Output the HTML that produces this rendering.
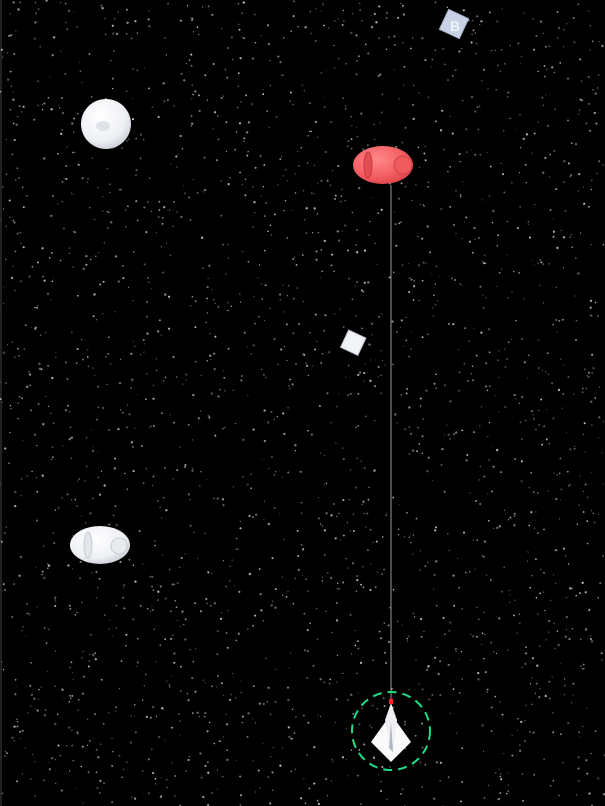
<!DOCTYPE html>
<html><head><meta charset="utf-8">
<style>html,body{margin:0;padding:0;background:#000;width:605px;height:806px;overflow:hidden}</style>
</head><body>
<svg id="scene" width="605" height="806" viewBox="0 0 605 806" xmlns="http://www.w3.org/2000/svg">
<defs>
<radialGradient id="gw" cx="0.4" cy="0.35" r="0.7"><stop offset="0" stop-color="#fff"/><stop offset="0.7" stop-color="#eef0f4"/><stop offset="1" stop-color="#c9ccd4"/></radialGradient>
<radialGradient id="gr" cx="0.4" cy="0.35" r="0.7"><stop offset="0" stop-color="#ff8a8a"/><stop offset="0.7" stop-color="#f25a5e"/><stop offset="1" stop-color="#d84448"/></radialGradient>
</defs>
<rect width="605" height="806" fill="#000"/>
<rect x="0" y="0" width="2" height="806" fill="#222"/>
<g id="stars"></g>
<line x1="391" y1="185" x2="391" y2="701" stroke="#999" stroke-width="1"/>
<g>
<ellipse cx="383" cy="165" rx="30" ry="19" fill="url(#gr)"/>
<ellipse cx="368" cy="165" rx="4" ry="13" fill="#e24e52" stroke="#c83a3e"/>
<circle cx="403" cy="165" r="9" fill="#ee5a5e" stroke="#cf4044"/>
</g>
<g>
<circle cx="106" cy="124" r="25" fill="url(#gw)"/>
<ellipse cx="103" cy="126" rx="7" ry="5" fill="#dfe2e8"/>
</g>
<g>
<ellipse cx="100" cy="545" rx="30" ry="19" fill="url(#gw)"/>
<ellipse cx="88" cy="545" rx="4" ry="13" fill="#e2e5ea" stroke="#c8ccd3"/>
<circle cx="119" cy="546" r="8" fill="#e9ebef" stroke="#c8ccd3"/>
</g>
<g>
<rect x="344" y="333" width="19" height="19" fill="#f2f4f8" stroke="#c5c8d0" transform="rotate(25 353 342)"/>
</g>
<g>
<rect x="443" y="13" width="22" height="22" fill="#c8d2e6" stroke="#a8b3c8" transform="rotate(25 454 24)"/>
<text x="455" y="31" font-family="Liberation Sans, sans-serif" font-size="14" font-weight="bold" fill="#eef2fa" text-anchor="middle">B</text>
</g>
<g>
<circle cx="391" cy="731" r="39" fill="none" stroke="#22dd88" stroke-width="2" stroke-dasharray="9 6"/>
<polygon points="391,714 411,742 391,762 371,742" fill="#fafafa"/>
<polygon points="391,703 397,720 393,752 391,752 385,720" fill="#f0f0f4"/>
<polygon points="391,722 393,752 389,748" fill="#b0b6c8"/>
<rect x="389" y="699" width="4" height="5" fill="#f22"/>
</g>
</svg>
<script>
var g=document.getElementById('stars');var s=12345;
function r(){s=(s*1103515245+12345)%2147483648;return s/2147483648;}
var ns='http://www.w3.org/2000/svg';
for(var i=0;i<2400;i++){var c=document.createElementNS(ns,'circle');
c.setAttribute('cx',(r()*605).toFixed(1));c.setAttribute('cy',(r()*806).toFixed(1));
c.setAttribute('r',(0.5+r()*0.7).toFixed(2));var b=Math.floor(60+r()*130);
c.setAttribute('fill','rgb('+b+','+b+','+b+')');


g.appendChild(c);}
</script>
</body></html>
